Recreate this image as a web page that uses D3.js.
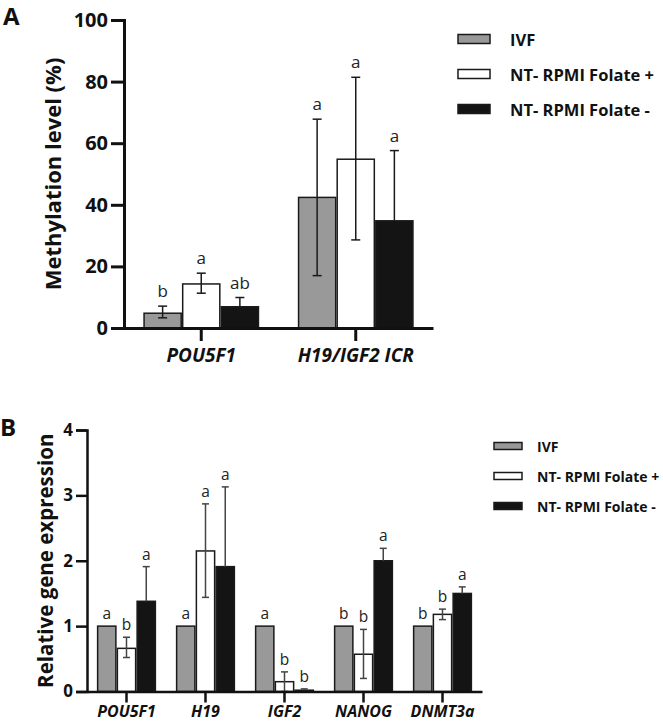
<!DOCTYPE html>
<html><head><meta charset="utf-8">
<script src="https://cdn.jsdelivr.net/npm/d3@7"></script>
<style>body{margin:0;background:#fff}svg{display:block}text{font-family:"Open Sans",sans-serif}</style>
</head><body>
<script>
// ---------- data ----------
const seriesNames = ["IVF", "NT- RPMI Folate +", "NT- RPMI Folate -"];
const seriesColors = ["#999999", "#ffffff", "#141414"];

// Panel A: methylation level (%)
const genesA = ["POU5F1", "H19/IGF2 ICR"];
const meanA = [[4.8, 14.3, 6.9], [42.4, 54.8, 34.8]];
const lowA  = [[3.3, 11.3, 3.9], [17.0, 28.6, 12.0]];
const highA = [[7.1, 17.8, 9.9], [67.8, 81.4, 57.6]];
const lettersA = [["b", "a", "ab"], ["a", "a", "a"]];
const ticksA = [0, 20, 40, 60, 80, 100];

// Panel B: relative gene expression
const genesB = ["POU5F1", "H19", "IGF2", "NANOG", "DNMT3a"];
const meanB = [[1, 0.66, 1.38], [1, 2.15, 1.91], [1, 0.15, 0.02], [1, 0.57, 2.0], [1, 1.18, 1.50]];
const lowB  = [[1, 0.52, 0.85], [1, 1.44, 0.69], [1, 0.0, 0.0], [1, 0.20, 1.81], [1, 1.10, 1.40]];
const highB = [[1, 0.83, 1.91], [1, 2.87, 3.13], [1, 0.30, 0.04], [1, 0.95, 2.19], [1, 1.26, 1.60]];
const lettersB = [["a", "b", "a"], ["a", "a", "a"], ["a", "b", "b"], ["b", "b", "a"], ["b", "b", "a"]];
const ticksB = [0, 1, 2, 3, 4];

const W = 663, H = 724;
const svg = d3.select("body").append("svg").attr("width", W).attr("height", H);

function panel(cfg) {
  const g = svg.append("g");
  const x0 = d3.scaleBand().domain(cfg.genes).range([cfg.x0, cfg.x1]).paddingInner(0.25).paddingOuter(0.125);
  const x1 = d3.scaleBand().domain(d3.range(3)).range([0, x0.bandwidth()]);
  const y = d3.scaleLinear().domain([0, cfg.ymax]).range([cfg.yb, cfg.yt]);

  const rows = [];
  cfg.genes.forEach((gname, i) => {
    for (let s = 0; s < 3; s++) rows.push({g: gname, s, m: cfg.mean[i][s], lo: cfg.low[i][s], hi: cfg.high[i][s], L: cfg.letters[i][s], err: cfg.high[i][s] !== cfg.low[i][s]});
  });

  // bars
  g.selectAll("rect.bar").data(rows).join("rect")
    .attr("x", d => x0(d.g) + x1(d.s) + cfg.sw/2)
    .attr("width", x1.bandwidth() - cfg.sw)
    .attr("y", d => y(d.m))
    .attr("height", d => y(0) - y(d.m))
    .attr("fill", d => seriesColors[d.s])
    .attr("stroke", "#1a1a1a").attr("stroke-width", cfg.sw);

  // error bars (lower half hidden inside the black bars)
  const eb = g.selectAll("g.err").data(rows.filter(d => d.err)).join("g")
    .attr("stroke", cfg.errColor).attr("stroke-width", cfg.ew);
  const cx = d => x0(d.g) + x1(d.s) + x1.bandwidth()/2;
  const loV = d => d.s === 2 ? d.m : d.lo;
  eb.append("line").attr("x1", cx).attr("x2", cx).attr("y1", d => y(loV(d))).attr("y2", d => y(d.hi));
  eb.append("line").attr("x1", d => cx(d) - cfg.cap).attr("x2", d => cx(d) + cfg.cap).attr("y1", d => y(d.hi)).attr("y2", d => y(d.hi));
  eb.filter(d => d.s !== 2).append("line").attr("x1", d => cx(d) - cfg.cap).attr("x2", d => cx(d) + cfg.cap).attr("y1", d => y(d.lo)).attr("y2", d => y(d.lo));

  // letters
  g.selectAll("text.let").data(rows).join("text")
    .attr("x", cx)
    .attr("y", d => y(Math.max(d.hi, d.m)) - cfg.letGap)
    .attr("text-anchor", "middle")
    .attr("font-size", cfg.letSize).attr("fill", "#222")
    .text(d => d.L);

  // y axis
  const ya = g.append("g").attr("transform", `translate(${cfg.x0},0)`)
    .call(d3.axisLeft(y).tickValues(cfg.ticks).tickSize(cfg.tick).tickPadding(3).tickFormat(d3.format("d")));
  ya.select(".domain").attr("stroke", "#111").attr("stroke-width", cfg.aw);
  ya.selectAll(".tick line").attr("stroke", "#111").attr("stroke-width", cfg.aw);
  ya.selectAll(".tick text").attr("font-size", cfg.tickSize).attr("font-weight", "bold").attr("fill", "#111").attr("font-family", "'Open Sans',sans-serif");

  // x axis
  const xa = g.append("g").attr("transform", `translate(0,${cfg.yb})`)
    .call(d3.axisBottom(x0).tickSize(cfg.tick).tickPadding(cfg.xpad).tickSizeOuter(0));
  xa.select(".domain").attr("stroke", "#111").attr("stroke-width", cfg.aw);
  xa.selectAll(".tick line").attr("stroke", "#111").attr("stroke-width", cfg.aw);
  xa.selectAll(".tick text").attr("font-size", cfg.xSize).attr("font-weight", "bold").attr("font-style", "italic").attr("fill", "#111").attr("font-family", "'Open Sans',sans-serif");

  // y title
  g.append("text").attr("transform", `translate(${cfg.titleX},${(cfg.yb + cfg.yt)/2}) rotate(-90)`)
    .attr("text-anchor", "middle").attr("dominant-baseline", "central")
    .attr("font-size", cfg.titleSize).attr("font-weight", "bold").attr("fill", "#111").text(cfg.title);

  // panel label
  g.append("text").attr("x", cfg.labX).attr("y", cfg.labY).attr("font-size", 24).attr("font-weight", "bold").attr("fill", "#111").text(cfg.label);

  // legend
  const lg = g.append("g");
  seriesNames.forEach((n, i) => {
    const yy = cfg.legY + i * cfg.legStep;
    lg.append("rect").attr("x", cfg.legX).attr("y", yy - cfg.legH/2).attr("width", cfg.legW).attr("height", cfg.legH)
      .attr("fill", seriesColors[i]).attr("stroke", "#1a1a1a").attr("stroke-width", 1.5);
    lg.append("text").attr("x", cfg.legTX).attr("y", yy).attr("dominant-baseline", "central")
      .attr("font-size", cfg.legSize).attr("font-weight", "bold").attr("fill", "#111").text(n);
  });
}

panel({genes: genesA, mean: meanA, low: lowA, high: highA, letters: lettersA, ticks: ticksA,
  x0: 124, x1: 433, yb: 328, yt: 20, ymax: 100, sw: 1.5, ew: 1.5, cap: 4.5, errColor: "#1a1a1a",
  letGap: 9, letSize: 17, aw: 3, tick: 13, tickSize: 20, xSize: 19, xpad: 8,
  title: "Methylation level (%)", titleX: 52, titleSize: 22, label: "A", labX: 3, labY: 25,
  legX: 458, legY: 39, legStep: 35, legW: 32, legH: 9, legTX: 510, legSize: 16.5});

panel({genes: genesB, mean: meanB, low: lowB, high: highB, letters: lettersB, ticks: ticksB,
  x0: 87, x1: 482, yb: 691.5, yt: 430, ymax: 4, sw: 1.5, ew: 1.5, cap: 3.5, errColor: "#444",
  letGap: 7, letSize: 15.5, aw: 2.5, tick: 11, tickSize: 17, xSize: 16, xpad: 3.5,
  title: "Relative gene expression", titleX: 45, titleSize: 20.5, label: "B", labX: 0, labY: 436,
  legX: 494, legY: 446, legStep: 30, legW: 28, legH: 7, legTX: 537, legSize: 14});
</script>
</body></html>
